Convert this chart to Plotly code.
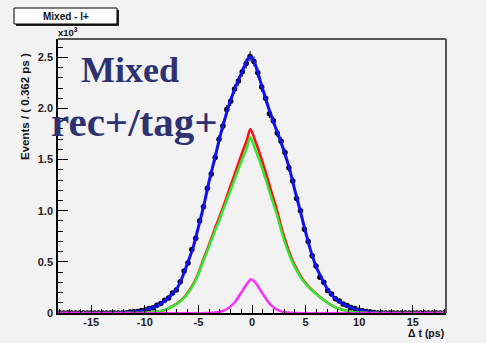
import plotly.graph_objects as go

# ---------------- data ----------------
bin_lo = -18.1
bin_w = 0.362
n_bins = 100
bin_centers = [round(bin_lo + bin_w * (i + 0.5), 3) for i in range(n_bins)]

# event counts (x10^3) per bin
data_y = ([0.0] * 18 + [
    0.009, 0.012, 0.015, 0.025, 0.029, 0.043, 0.052, 0.075, 0.092, 0.124,
    0.147, 0.195, 0.226, 0.305, 0.41, 0.49, 0.62, 0.73, 0.90, 1.04,
    1.22, 1.36, 1.52, 1.70, 1.83, 1.99, 2.07, 2.19, 2.27, 2.36,
    2.44, 2.51, 2.46, 2.35, 2.21, 2.10, 1.95, 1.88, 1.76, 1.68,
    1.57, 1.42, 1.29, 1.12, 1.00, 0.82, 0.70, 0.56, 0.46, 0.35,
    0.30, 0.22, 0.185, 0.14, 0.118, 0.088, 0.074, 0.054, 0.044, 0.028,
    0.023, 0.015, 0.011, 0.005] + [0.0] * 18)
data_err = [(v / 1000.0) ** 0.5 for v in data_y]

blue_x = [-18.1, -13, -12, -11, -10, -9, -8, -7.5, -7, -6.5, -6, -5.5, -5, -4.5, -4, -3.5, -3,
          -2.5, -2, -1.5, -1, -0.5, -0.2, 0.2, 0.6, 1, 1.5, 2, 2.5, 3, 3.5, 4, 4.5, 5, 5.5, 6,
          6.5, 7, 7.5, 8, 9, 10, 11, 12, 13, 18.1]
blue_y = [0, 0.001, 0.004, 0.012, 0.03, 0.065, 0.13, 0.18, 0.24, 0.35, 0.49, 0.64, 0.84, 1.05,
          1.29, 1.50, 1.72, 1.91, 2.08, 2.22, 2.34, 2.46, 2.51, 2.46, 2.33, 2.19, 2.02, 1.87,
          1.73, 1.58, 1.41, 1.20, 1.00, 0.79, 0.60, 0.45, 0.34, 0.24, 0.17, 0.12, 0.063, 0.03,
          0.011, 0.004, 0.001, 0]

green_x = [-18.1, -11, -10, -9, -8, -7.5, -7, -6.5, -6, -5.5, -5, -4.5, -4, -3.5, -3, -2.5, -2,
           -1.5, -1, -0.5, -0.15, 0.3, 0.8, 1.3, 1.8, 2.3, 2.8, 3.3, 3.8, 4.3, 4.8, 5.5, 6.4,
           7.2, 7.9, 8.9, 10, 11, 18.1]
green_y = [0, 0, 0.003, 0.01, 0.035, 0.06, 0.09, 0.13, 0.19, 0.27, 0.38, 0.52, 0.65, 0.79, 0.92,
           1.06, 1.20, 1.34, 1.48, 1.61, 1.72, 1.60, 1.46, 1.30, 1.13, 0.97, 0.78, 0.62, 0.49,
           0.39, 0.31, 0.23, 0.15, 0.09, 0.05, 0.02, 0.004, 0, 0]
red_y = [0, 0, 0.003, 0.01, 0.036, 0.062, 0.093, 0.135, 0.197, 0.28, 0.39, 0.535, 0.67, 0.815,
         0.95, 1.095, 1.245, 1.395, 1.545, 1.685, 1.80, 1.685, 1.535, 1.37, 1.19, 1.02, 0.815,
         0.65, 0.51, 0.405, 0.32, 0.235, 0.152, 0.091, 0.05, 0.02, 0.004, 0, 0]

magenta_x = [-18.1, -4, -3.5, -3, -2.5, -2, -1.5, -1, -0.5, -0.1, 0.3, 0.8, 1.3, 1.8, 2.3, 2.8,
             3.3, 3.8, 18.1]
magenta_y = [0, 0, 0.004, 0.012, 0.03, 0.065, 0.12, 0.20, 0.28, 0.33, 0.30, 0.22, 0.14, 0.075,
             0.035, 0.013, 0.004, 0, 0]

x_tick_vals = [-15, -10, -5, 0, 5, 10, 15]
x_tick_text = ["-15", "-10", "-5", "0", "5", "10", "15"]
y_tick_vals = [0, 0.5, 1.0, 1.5, 2.0, 2.5]
y_tick_text = ["0", "0.5", "1.0", "1.5", "2.0", "2.5"]

# ---------------- layout geometry ----------------
W, H = 486, 343
L, R, T, B = 58, 446, 39, 313


def px(xp):
    return (xp - L) / (R - L)


def py(yp):
    return (B - yp) / (B - T)


BG = "#f2f2f2"
FONT = "Liberation Sans"

fig = go.Figure()

fig.add_trace(go.Scatter(
    x=bin_centers, y=data_y, mode="markers",
    marker=dict(color="black", size=5.5),
    error_y=dict(type="data", array=data_err, color="black", thickness=1, width=0),
    showlegend=False, hoverinfo="skip"))

line_kw = dict(mode="lines", showlegend=False, hoverinfo="skip")
fig.add_trace(go.Scatter(x=blue_x, y=blue_y, line=dict(color="#1010f0", width=3,
                                                       shape="spline", smoothing=0.7), **line_kw))
fig.add_trace(go.Scatter(x=green_x, y=red_y, line=dict(color="#ff1010", width=2.5,
                                                       shape="spline", smoothing=0.7), **line_kw))
fig.add_trace(go.Scatter(x=green_x, y=green_y, line=dict(color="#33e633", width=2.5,
                                                         shape="spline", smoothing=0.7), **line_kw))
fig.add_trace(go.Scatter(x=magenta_x, y=magenta_y, opacity=0.8,
                         line=dict(color="#ff00ff", width=2.5, shape="spline", smoothing=0.7),
                         **line_kw))

fig.update_layout(
    width=W, height=H,
    margin=dict(l=L, r=W - R, t=T, b=H - B, pad=0),
    paper_bgcolor=BG, plot_bgcolor=BG,
    font=dict(family=FONT, size=10, color="#111"),
    xaxis=dict(range=[-18.1, 18.1], showgrid=False, zeroline=False,
               showline=True, linecolor="black", linewidth=1.5,
               ticks="inside", ticklen=8, tickwidth=1, tickcolor="black",
               tickvals=x_tick_vals, ticktext=x_tick_text, ticklabelstandoff=-2,
               tickfont=dict(family=FONT, size=11, color="#222", weight="bold"),
               minor=dict(dtick=1, ticks="inside", ticklen=4, tickcolor="black", tickwidth=1)),
    yaxis=dict(range=[0, 2.68], showgrid=False, zeroline=False,
               showline=True, linecolor="black", linewidth=1.5,
               ticks="inside", ticklen=10, tickwidth=1, tickcolor="black",
               tickvals=y_tick_vals, ticktext=y_tick_text, ticklabelstandoff=1,
               tickfont=dict(family=FONT, size=11, color="#222", weight="bold"),
               minor=dict(dtick=0.1, ticks="inside", ticklen=5, tickcolor="black", tickwidth=1)),
)

# frame top / right
fig.add_shape(type="line", xref="paper", yref="paper", x0=0, x1=1, y0=1, y1=1,
              line=dict(color="#555", width=2))
fig.add_shape(type="line", xref="paper", yref="paper", x0=1, x1=1, y0=0, y1=1,
              line=dict(color="#555", width=2))

# title box with shadow
fig.add_shape(type="rect", xref="paper", yref="paper",
              x0=px(16), x1=px(119), y0=py(26), y1=py(10),
              line=dict(width=0), fillcolor="#222")
fig.add_shape(type="rect", xref="paper", yref="paper",
              x0=px(14), x1=px(117), y0=py(24), y1=py(8),
              line=dict(color="black", width=1), fillcolor="white")
fig.add_annotation(xref="paper", yref="paper", x=px(66), y=py(16), text="Mixed - l+",
                   showarrow=False, xanchor="center", yanchor="middle",
                   font=dict(family=FONT, size=10, color="#111", weight="bold"))

# x10^3
fig.add_annotation(xref="paper", yref="paper", x=px(56), y=py(32), text="x10<sup>3</sup>",
                   showarrow=False, xanchor="left", yanchor="middle",
                   font=dict(family=FONT, size=9.5, color="#111", weight="bold"))

# axis titles
fig.add_annotation(xref="paper", yref="paper", x=px(25), y=py(107),
                   text="Events / ( 0.362 ps )", textangle=-90,
                   showarrow=False, xanchor="center", yanchor="middle",
                   font=dict(family=FONT, size=11.5, color="#111", weight="bold"))
fig.add_annotation(xref="paper", yref="paper", x=px(446), y=py(333),
                   text="\u0394 t (ps)", showarrow=False, xanchor="right", yanchor="middle",
                   font=dict(family=FONT, size=10.5, color="#111", weight="bold"))

# big labels
fig.add_annotation(xref="paper", yref="paper", x=px(79), y=py(70), text="Mixed",
                   showarrow=False, xanchor="left", yanchor="middle",
                   font=dict(family="Liberation Serif", size=36, color="#2e3270", weight="bold"))
fig.add_annotation(xref="paper", yref="paper", x=px(49), y=py(122), text="rec+/tag+",
                   showarrow=False, xanchor="left", yanchor="middle",
                   font=dict(family="Liberation Serif", size=41, color="#2e3270", weight="bold"))

fig.write_html("out.html", config={"displayModeBar": False},
               post_script="document.body.style.margin='0';"
                           "document.body.style.background='#f2f2f2';")
